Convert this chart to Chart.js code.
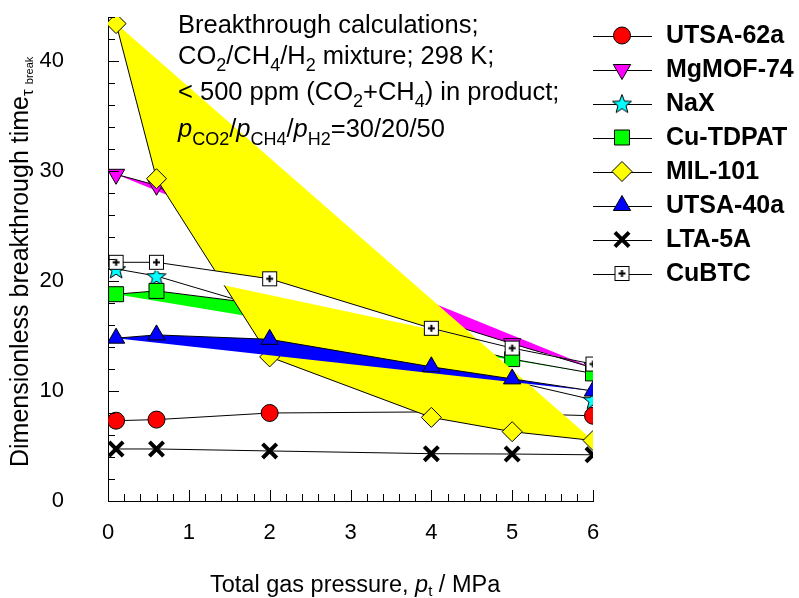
<!DOCTYPE html>
<html>
<head>
<meta charset="utf-8">
<script src="https://cdn.jsdelivr.net/npm/chart.js@4.4.1/dist/chart.umd.min.js"></script>
<style>
  html, body { margin: 0; padding: 0; background: #fff; }
  #wrap { position: relative; width: 799px; height: 598px; }
</style>
</head>
<body>
<div id="wrap"><canvas id="chart" width="799" height="598"></canvas></div>
<script>
// data (total pressure in MPa, dimensionless breakthrough time)
const pressures = [0.1, 0.6, 2, 4, 5, 6];
const utsa62a = [7.3, 7.4, 8.0, 8.1, 7.95, 7.75];
const mgmof74 = [29.7, 28.7, 22.5, 16.6, 14.3, 12.1];
const nax     = [21.1, 20.45, 17.4, 13.2, 10.9, 9.2];
const cuTdpat = [18.8, 19.1, 17.8, 14.6, 12.9, 11.6];
const mil101  = [43.4, 29.3, 13.1, 7.6, 6.3, 5.5];
const utsa40a = [14.8, 15.1, 14.7, 12.2, 11.1, 10.0];
const lta5a   = [4.73, 4.73, 4.55, 4.3, 4.27, 4.2];
const cubtc   = [21.7, 21.7, 20.2, 15.7, 13.9, 12.45];

const seriesNames = ['UTSA-62a', 'MgMOF-74', 'NaX', 'Cu-TDPAT', 'MIL-101', 'UTSA-40a', 'LTA-5A', 'CuBTC'];
const seriesValues = [utsa62a, mgmof74, nax, cuTdpat, mil101, utsa40a, lta5a, cubtc];

const xTicks = [0, 1, 2, 3, 4, 5, 6];
const yTicks = [0, 10, 20, 30, 40];
const xMinorStep = 0.2;
const yMinorStep = 2;

const annotationLines = [
    [{ t: 'Breakthrough calculations;' }],
    [{ t: 'CO' }, { t: '2', sub: true }, { t: '/CH' }, { t: '4', sub: true }, { t: '/H' }, { t: '2', sub: true }, { t: ' mixture; 298 K;' }],
    [{ t: '< 500 ppm (CO' }, { t: '2', sub: true }, { t: '+CH' }, { t: '4', sub: true }, { t: ') in product;' }],
    [{ t: 'p', it: true }, { t: 'CO2', sub: true }, { t: '/' }, { t: 'p', it: true }, { t: 'CH4', sub: true }, { t: '/' }, { t: 'p', it: true }, { t: 'H2', sub: true }, { t: '=30/20/50' }]
];
const xTitle = [{ t: 'Total gas pressure, ' }, { t: 'p', it: true }, { t: 't', sub: true }, { t: ' / MPa' }];
const yTitle = [{ t: 'Dimensionless breakthrough time' }, { t: 'τ', sub: true }];
const yTitleSub = ' break';

const FONT = '"Liberation Sans", Arial, sans-serif';

// custom marker images
function makeStar(fill) {
    const c = document.createElement('canvas');
    c.width = 22; c.height = 22;
    const g = c.getContext('2d');
    g.beginPath();
    for (let i = 0; i < 10; i++) {
        const a = -Math.PI / 2 + i * Math.PI / 5;
        const r = i % 2 ? 4.2 : 10;
        g.lineTo(11 + r * Math.cos(a), 12 + r * Math.sin(a));
    }
    g.closePath();
    g.fillStyle = fill;
    g.fill();
    g.strokeStyle = '#000';
    g.lineWidth = 1;
    g.stroke();
    return c;
}

function makePlusBox() {
    const c = document.createElement('canvas');
    c.width = 17; c.height = 17;
    const g = c.getContext('2d');
    g.fillStyle = '#fff';
    g.fillRect(1, 1, 15, 15);
    g.strokeStyle = '#000';
    g.lineWidth = 1;
    g.strokeRect(1.5, 1.5, 14, 14);
    g.lineWidth = 2;
    g.beginPath();
    g.moveTo(8.5, 5); g.lineTo(8.5, 12);
    g.moveTo(5, 8.5); g.lineTo(12, 8.5);
    g.stroke();
    return c;
}

const styles = [
    { color: '#ff0000', pointStyle: 'circle', radius: 8.5, fill: false },
    { color: '#ff00ff', pointStyle: 'triangle', rotation: 180, radius: 10, fill: 'shape' },
    { color: '#00ffff', pointStyle: makeStar('#00ffff'), radius: 10, fill: false },
    { color: '#00ff00', pointStyle: 'rect', radius: 10.6, fill: 'shape' },
    { color: '#ffff00', pointStyle: 'rectRot', radius: 10, fill: 'shape' },
    { color: '#0000ff', pointStyle: 'triangle', radius: 10, fill: 'shape' },
    { color: '#000000', pointStyle: 'crossRot', radius: 10, fill: false, markerWidth: 4 },
    { color: '#ffffff', pointStyle: makePlusBox(), radius: 9, fill: 'shape' }
];

const datasets = seriesNames.map((name, i) => {
    const s = styles[i];
    return {
        label: name,
        data: pressures.map((p, k) => ({ x: p, y: seriesValues[i][k] })),
        showLine: true,
        fill: s.fill,
        backgroundColor: s.color,
        borderColor: '#000',
        borderWidth: 1,
        pointStyle: s.pointStyle,
        pointRotation: s.rotation || 0,
        pointRadius: s.radius,
        pointHoverRadius: s.radius,
        pointBackgroundColor: s.color,
        pointBorderColor: '#000',
        pointBorderWidth: s.markerWidth || 1,
        order: seriesNames.length - i   // later series painted on top
    };
});

function drawRich(ctx, parts, x, y, size, subSize, subShift, weight) {
    for (const p of parts) {
        const fs = p.sub ? subSize : size;
        ctx.font = `${p.it ? 'italic ' : ''}${weight || 'normal'} ${fs}px ${FONT}`;
        ctx.fillText(p.t, x, y + (p.sub ? subShift : 0));
        x += ctx.measureText(p.t).width;
    }
    return x;
}

const axisTicks = {
    id: 'axisTicks',
    afterDraw(chart) {
        const { ctx, chartArea: a, scales: { x, y } } = chart;
        ctx.save();
        ctx.strokeStyle = '#000';
        ctx.lineWidth = 1;
        ctx.beginPath();
        for (let v = x.min; v <= x.max + 1e-6; v += xMinorStep) {
            const major = Math.abs(v - Math.round(v)) < 1e-6;
            const px = Math.round(x.getPixelForValue(v)) + 0.5;
            ctx.moveTo(px, a.bottom);
            ctx.lineTo(px, a.bottom - (major ? 11 : 7));
        }
        for (let v = y.min; v <= y.max + 1e-6; v += yMinorStep) {
            const major = v % 10 === 0;
            const py = Math.round(y.getPixelForValue(v)) + 0.5;
            ctx.moveTo(a.left, py);
            ctx.lineTo(a.left + (major ? 11 : 7), py);
        }
        ctx.stroke();
        ctx.restore();
    }
};

const texts = {
    id: 'texts',
    afterDraw(chart) {
        const { ctx } = chart;
        ctx.save();
        ctx.fillStyle = '#000';
        ctx.textBaseline = 'alphabetic';
        ctx.textAlign = 'left';

        // annotation block
        const baselines = [33, 64, 100, 137];
        annotationLines.forEach((line, i) => {
            drawRich(ctx, line, 178, baselines[i], 25.5, 18, i === 3 ? 8 : 7);
        });

        // x axis title
        drawRich(ctx, xTitle, 210, 592, 23.5, 15, 4);

        // y axis title
        ctx.save();
        ctx.translate(28, 467);
        ctx.rotate(-Math.PI / 2);
        const end = drawRich(ctx, yTitle, 0, 0, 25, 17, 5);
        ctx.font = `11px ${FONT}`;
        ctx.fillText(yTitleSub, end + 2, 5);
        ctx.restore();

        // legend
        const rowY0 = 35.5, rowStep = 34;
        chart.data.datasets.forEach((ds, i) => {
            const ry = rowY0 + i * rowStep;
            ctx.strokeStyle = '#000';
            ctx.lineWidth = 1;
            ctx.beginPath();
            ctx.moveTo(593, Math.round(ry) + 0.5);
            ctx.lineTo(652, Math.round(ry) + 0.5);
            ctx.stroke();
            ctx.fillStyle = ds.pointBackgroundColor;
            ctx.lineWidth = ds.pointBorderWidth;
            Chart.helpers.drawPoint(ctx, {
                pointStyle: ds.pointStyle,
                rotation: ds.pointRotation,
                radius: ds.pointRadius,
                borderWidth: ds.pointBorderWidth
            }, 622, ry);
            ctx.fillStyle = '#000';
            ctx.font = `bold 25px ${FONT}`;
            ctx.textBaseline = 'middle';
            ctx.fillText(ds.label, 666, ry + 1);
            ctx.textBaseline = 'alphabetic';
        });
        ctx.restore();
    }
};

new Chart(document.getElementById('chart'), {
    type: 'scatter',
    data: { datasets },
    options: {
        responsive: false,
        animation: false,
        events: [],
        layout: { padding: { left: 0, right: 206, top: 17, bottom: 0 } },
        plugins: {
            legend: { display: false },
            tooltip: { enabled: false },
            filler: { drawTime: 'beforeDatasetDraw' }
        },
        scales: {
            x: {
                type: 'linear',
                min: 0,
                max: 6,
                afterFit: scale => { scale.height = 97; scale.paddingLeft = 0; scale.paddingRight = 0; },
                afterBuildTicks: scale => { scale.ticks = xTicks.map(v => ({ value: v })); },
                grid: { drawOnChartArea: false, drawTicks: false },
                border: { display: true, color: '#000', width: 1 },
                ticks: { color: '#000', font: { family: FONT, size: 22 }, padding: 19 }
            },
            y: {
                type: 'linear',
                min: 0,
                max: 44,
                afterFit: scale => { scale.width = 108; scale.paddingTop = 0; scale.paddingBottom = 0; },
                afterBuildTicks: scale => { scale.ticks = yTicks.map(v => ({ value: v })); },
                grid: { drawOnChartArea: false, drawTicks: false },
                border: { display: true, color: '#000', width: 1 },
                ticks: { color: '#000', font: { family: FONT, size: 22 }, padding: 44 }
            }
        }
    },
    plugins: [axisTicks, texts]
});
</script>
</body>
</html>
